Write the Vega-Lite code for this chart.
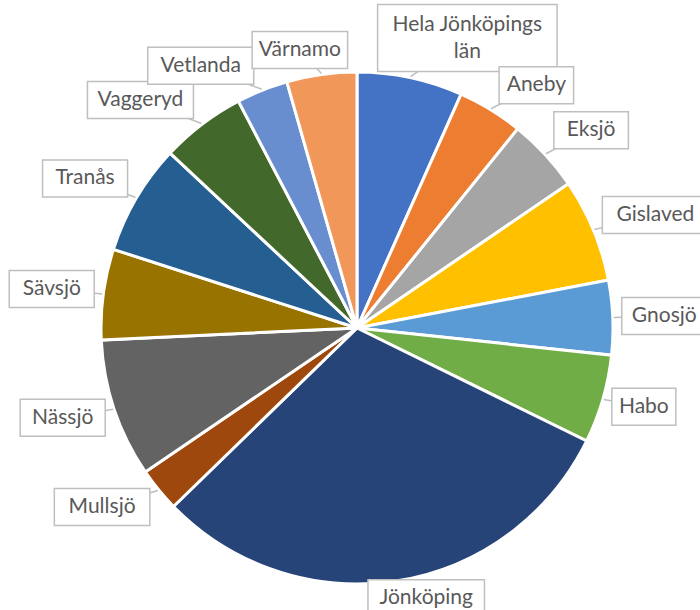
{
  "$schema": "https://vega.github.io/schema/vega-lite/v6.json",
  "width": 686,
  "height": 564,
  "autosize": {"type": "none"},
  "padding": {"left": 14, "top": 46, "right": 0, "bottom": 0},
  "background": "white",
  "config": {"view": {"stroke": null}},
  "data": {
    "values": [
      {"i": 1, "label": "Hela Jönköpings\nlän", "value": 24.0},
      {"i": 2, "label": "Aneby", "value": 14.9},
      {"i": 3, "label": "Eksjö", "value": 16.8},
      {"i": 4, "label": "Gislaved", "value": 23.5},
      {"i": 5, "label": "Gnosjö", "value": 16.9},
      {"i": 6, "label": "Habo", "value": 20.1},
      {"i": 7, "label": "Jönköping", "value": 109.6},
      {"i": 8, "label": "Mullsjö", "value": 10.0},
      {"i": 9, "label": "Nässjö", "value": 31.5},
      {"i": 10, "label": "Sävsjö", "value": 20.6},
      {"i": 11, "label": "Tranås", "value": 25.2},
      {"i": 12, "label": "Vaggeryd", "value": 19.3},
      {"i": 13, "label": "Vetlanda", "value": 11.7},
      {"i": 14, "label": "Värnamo", "value": 15.9}
    ]
  },
  "transform": [
    {"window": [{"op": "sum", "field": "value", "as": "cum"}], "sort": [{"field": "i"}], "frame": [null, 0]},
    {"joinaggregate": [{"op": "sum", "field": "value", "as": "total"}]},
    {"calculate": "(datum.cum - datum.value / 2) / datum.total * 2 * PI", "as": "ang"},
    {"calculate": "sin(datum.ang)", "as": "s"},
    {"calculate": "cos(datum.ang)", "as": "c"},
    {"calculate": "split(datum.label, '\\n')", "as": "lines"},
    {"calculate": "length(datum.lines)", "as": "nl"},
    {"calculate": "max(length(datum.lines[0]), length(peek(datum.lines)))", "as": "ml"},
    {"calculate": "10.5 * datum.ml + 22", "as": "bw"},
    {"calculate": "30 * datum.nl + 7", "as": "bh"},
    {"calculate": "257 * datum.s", "as": "ax"},
    {"calculate": "-257 * datum.c", "as": "ay"},
    {"calculate": "clamp(2.8 * datum.s, -1, 1)", "as": "fx"},
    {"calculate": "clamp(-1.6 * datum.c, -1, 1)", "as": "fy"},
    {"calculate": "datum.ax + datum.fx * (datum.bw / 2 + 8)", "as": "cx"},
    {"calculate": "datum.ay + datum.fy * (datum.bh / 2 + (datum.fy < 0 ? 5 : -2))", "as": "cy"},
    {"calculate": "datum.cy - (datum.nl - 1) * 13.5", "as": "ty"},
    {"calculate": "datum.cx - datum.bw / 2", "as": "bx1"},
    {"calculate": "datum.cx + datum.bw / 2", "as": "bx2"},
    {"calculate": "datum.cy - datum.bh / 2", "as": "by1"},
    {"calculate": "datum.cy + datum.bh / 2", "as": "by2"}
  ],
  "layer": [
    {
      "mark": {"type": "arc", "outerRadius": 256, "stroke": "white", "strokeWidth": 3},
      "encoding": {
        "theta": {"field": "value", "type": "quantitative", "stack": true},
        "order": {"field": "i", "type": "quantitative"},
        "color": {
          "field": "label",
          "type": "nominal",
          "legend": null,
          "scale": {
            "domain": ["Hela Jönköpings\nlän", "Aneby", "Eksjö", "Gislaved", "Gnosjö", "Habo", "Jönköping", "Mullsjö", "Nässjö", "Sävsjö", "Tranås", "Vaggeryd", "Vetlanda", "Värnamo"],
            "range": ["#4472C4", "#ED7D31", "#A5A5A5", "#FFC000", "#5B9BD5", "#70AD47", "#264478", "#9E480E", "#636363", "#997300", "#255E91", "#43682B", "#698ED0", "#F1975A"]
          }
        }
      }
    },
    {
      "mark": {"type": "rule", "color": "#BFBFBF", "strokeWidth": 1.5},
      "encoding": {
        "x": {"field": "ax", "type": "quantitative", "axis": null, "scale": {"domain": [-343, 343], "nice": false, "zero": false}},
        "y": {"field": "ay", "type": "quantitative", "axis": null, "scale": {"domain": [-282, 282], "nice": false, "zero": false, "reverse": true}},
        "x2": {"field": "cx"},
        "y2": {"field": "cy"}
      }
    },
    {
      "mark": {"type": "rect", "fill": "white", "stroke": "#BFBFBF", "strokeWidth": 1.5},
      "encoding": {
        "x": {"field": "bx1", "type": "quantitative", "axis": null},
        "x2": {"field": "bx2"},
        "y": {"field": "by1", "type": "quantitative", "axis": null},
        "y2": {"field": "by2"}
      }
    },
    {
      "mark": {"type": "text", "font": "Lato", "fontSize": 21, "color": "#595959", "lineBreak": "\n", "lineHeight": 27, "align": "center", "baseline": "middle"},
      "encoding": {
        "x": {"field": "cx", "type": "quantitative", "axis": null},
        "y": {"field": "ty", "type": "quantitative", "axis": null},
        "text": {"field": "label", "type": "nominal"}
      }
    }
  ]
}
